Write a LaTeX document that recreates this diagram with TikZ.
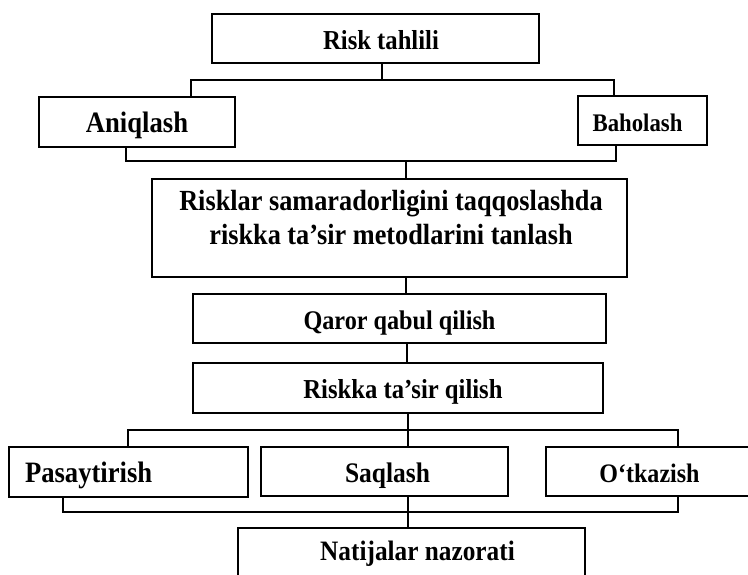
\documentclass[tikz,border=0pt]{standalone}
\usepackage{fontspec}
\setmainfont{Liberation Serif}[FakeStretch=0.9]
\newcommand\fzb[1]{\bfseries\fontsize{#1}{#1}\selectfont}
\begin{document}
\begin{tikzpicture}[x=1pt,y=-1pt,line width=1.5pt,
  box/.style={draw,inner sep=0pt,text height=21pt,text depth=0pt},
  conn/.style={draw,line width=1.5pt}]
\useasboundingbox (0,0) rectangle (748,574);
\clip (0,0) rectangle (748,574);
% boxes
\node[box,minimum width=327pt,minimum height=49pt,font=\fzb{27.4}] (rt) at (375.5,38.5) {\hspace*{11pt}Risk tahlili};
\node[box,minimum width=196pt,minimum height=50pt,font=\fzb{29.6}] (an) at (137,122) {Aniqlash};
\node[box,minimum width=129pt,minimum height=49pt,font=\fzb{25.3}] (ba) at (642.5,120.5) {Baholash\hspace*{10pt}};
\node[box,minimum width=475pt,minimum height=98pt] (big) at (389.5,228) {};
\node[align=center,inner sep=0pt,font=\bfseries\fontsize{29.2}{34}\selectfont] (bigtxt) at (391,218)
  {Risklar samaradorligini taqqoslashda\\riskka ta’sir metodlarini tanlash};
\node[box,minimum width=413pt,minimum height=49pt,font=\fzb{26.9}] (qa) at (399.5,318.5) {Qaror qabul qilish};
\node[box,minimum width=410pt,minimum height=50pt,font=\fzb{27.4}] (ri) at (398,388) {\hspace*{10pt}Riskka ta’sir qilish};
\node[box,minimum width=239pt,minimum height=50pt,inner xsep=16pt,text width=207pt,align=left,font=\fzb{29.6}] (pa) at (128.5,472) {Pasaytirish};
\node[box,minimum width=247pt,minimum height=49pt,font=\fzb{28.3}] (sa) at (384.5,471.5) {\hspace*{6pt}Saqlash};
\node[box,minimum width=207pt,minimum height=49pt,font=\fzb{26.7}] (ot) at (649.5,471.5) {O‘tkazish};
\node[box,minimum width=347pt,minimum height=72pt,text height=10pt,text depth=18pt,font=\fzb{28.1}] (na) at (411.5,564) {\hspace*{12pt}Natijalar nazorati};
% junctions
\coordinate (a1) at (382,80); \coordinate (aL) at (191,80); \coordinate (aR) at (614,80);
\coordinate (b1) at (406,161); \coordinate (bL) at (126,161); \coordinate (bR) at (616,161);
\coordinate (c1) at (406,285);
\coordinate (c2) at (407,353);
\coordinate (d1) at (408,430); \coordinate (dL) at (128,430); \coordinate (dR) at (678,430);
\coordinate (e1) at (408,512); \coordinate (eL) at (63,512); \coordinate (eR) at (678,512);
% connectors
\path[conn] (a1 |- rt.south) -- (a1);
\path[conn] (aL |- an.north) -- (aL) -- (aR) -- (aR |- ba.north);
\path[conn] (bL |- an.south) -- (bL) -- (bR) -- (bR |- ba.south);
\path[conn] (b1) -- (b1 |- big.north);
\path[conn] (c1 |- big.south) -- (c1 |- qa.north);
\path[conn] (c2 |- qa.south) -- (c2 |- ri.north);
\path[conn] (d1 |- ri.south) -- (d1 |- sa.north);
\path[conn] (dL |- pa.north) -- (dL) -- (dR) -- (dR |- ot.north);
\path[conn] (eL |- pa.south) -- (eL) -- (eR) -- (eR |- ot.south);
\path[conn] (e1 |- sa.south) -- (e1 |- na.north);
\end{tikzpicture}
\end{document}
